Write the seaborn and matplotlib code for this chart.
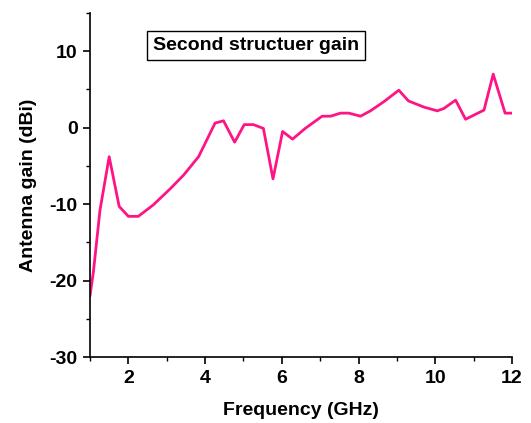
import matplotlib
matplotlib.use("Agg")
import matplotlib.pyplot as plt
import seaborn as sns
import pandas as pd
from matplotlib.ticker import MultipleLocator

freq = [1.0, 1.09, 1.26, 1.5, 1.76, 2.0, 2.26, 2.65, 3.09, 3.44, 3.83, 4.26, 4.48,
        4.77, 5.02, 5.26, 5.52, 5.77, 6.02, 6.28, 6.61, 7.05, 7.27, 7.53, 7.75,
        8.05, 8.31, 8.66, 9.05, 9.3, 9.7, 10.05, 10.22, 10.53, 10.79, 11.27,
        11.51, 11.82, 12.05]
gain = [-22.0, -18.8, -10.8, -3.8, -10.3, -11.6, -11.6, -10.1, -8.0, -6.2, -3.8,
        0.6, 0.9, -1.9, 0.4, 0.4, -0.1, -6.7, -0.5, -1.5, -0.1, 1.5, 1.5, 1.9,
        1.9, 1.5, 2.2, 3.4, 4.9, 3.5, 2.7, 2.2, 2.5, 3.6, 1.1, 2.3, 7.0, 1.9, 1.9]

df = pd.DataFrame({"Frequency": freq, "Gain": gain})

sns.set_style("ticks")
plt.rcParams['font.family'] = ['Liberation Sans', 'DejaVu Sans']
plt.rcParams['axes.unicode_minus'] = False
plt.rcParams['text.color'] = 'black'
plt.rcParams['axes.labelcolor'] = 'black'

fig = plt.figure(figsize=(5.31, 4.23), dpi=100)
ax = fig.add_axes([90/531, 1-357/423, (512-90)/531, (357-13)/423])

sns.lineplot(data=df, x="Frequency", y="Gain", ax=ax, color="#FF1485",
             linewidth=2.0, sort=False)

ax.set_xlim(1, 12)
ax.set_ylim(-30, 15)
ax.xaxis.set_major_locator(MultipleLocator(2))
ax.xaxis.set_minor_locator(MultipleLocator(1))
ax.yaxis.set_major_locator(MultipleLocator(10))
ax.yaxis.set_minor_locator(MultipleLocator(5))
ax.tick_params(which="major", direction="out", length=5, width=1.2, labelsize=14,
               colors="black", pad=4)
ax.tick_params(which="minor", direction="out", length=3, width=1.0, colors="black")
for lbl in ax.get_xticklabels() + ax.get_yticklabels():
    lbl.set_fontweight("bold")

ax.set_xlabel("Frequency (GHz)", fontsize=14, fontweight="bold", labelpad=11, color="black")
ax.set_ylabel("Antenna gain (dBi)", fontsize=14, fontweight="bold", labelpad=9, color="black")

sns.despine(ax=ax)
for s in ["left", "bottom"]:
    ax.spines[s].set_linewidth(1.2)
    ax.spines[s].set_color("black")

ax.text(0.15, 0.905, "Second structuer gain", transform=ax.transAxes,
        fontsize=14, fontweight="bold", ha="left", va="center", color="black",
        bbox=dict(boxstyle="square,pad=0.3", facecolor="white", edgecolor="black", linewidth=1.0))

fig.savefig("out.png", dpi=100)
